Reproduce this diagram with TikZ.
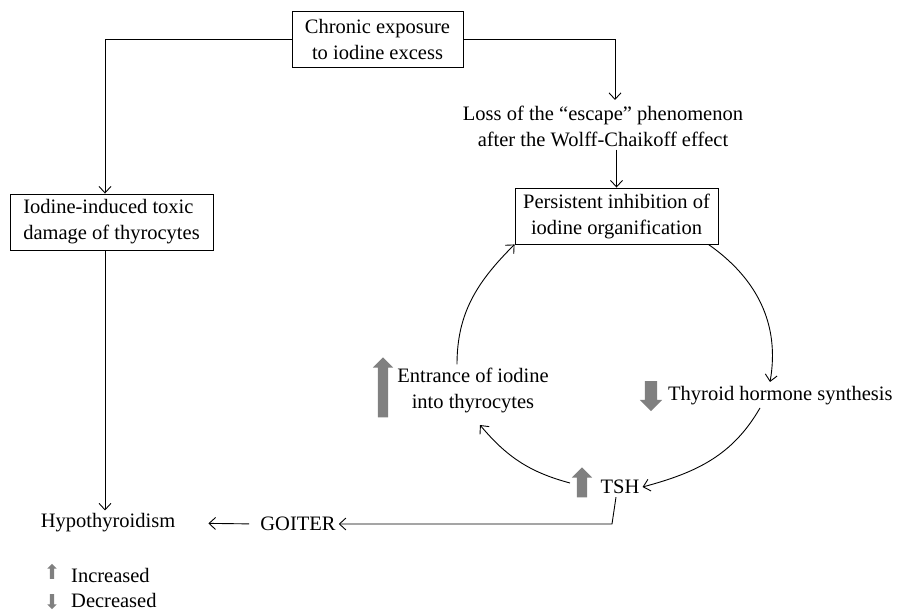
\documentclass[tikz,border=0pt]{standalone}
\usepackage{fontspec}
\setmainfont{Liberation Serif}
\usetikzlibrary{arrows.meta,shapes.arrows}
\definecolor{arrowgray}{HTML}{808080}
\tikzset{
  box/.style={draw, line width=0.9pt, minimum height=56pt, inner sep=3pt, align=center},
  plain/.style={inner sep=3pt, align=center},
  arr/.style={line width=0.9pt, -{Straight Barb[length=6.5pt,width=12pt,line width=0.9pt]}},
  con/.style={line width=0.9pt},
  blockarrow/.style={single arrow, fill=arrowgray, draw=none, inner sep=5pt,
    single arrow head extend=5pt, single arrow tip angle=90, minimum width=20pt, rotate=90},
  blockdown/.style={single arrow, fill=arrowgray, draw=none, inner sep=6pt,
    single arrow head extend=5pt, single arrow tip angle=90, minimum width=22pt, rotate=-90},
  legup/.style={single arrow, fill=arrowgray, draw=none, inner sep=2pt,
    single arrow head extend=2.5pt, single arrow tip angle=90, minimum width=9pt, minimum height=15pt, rotate=90},
  legdown/.style={legup, rotate=-180}
}
\begin{document}
\begin{tikzpicture}[x=1pt,y=1pt,font=\fontsize{20.5}{26}\selectfont]
\useasboundingbox (0,0) rectangle (898,611);

% nodes
\node[box, minimum width=171pt] (chronic) at (377.5,572) {Chronic exposure\\to iodine excess};
\node[plain] (loss) at (603,485) {Loss of the “escape” phenomenon\\after the Wolff-Chaikoff effect};
\coordinate (lossin) at (615,511);
\node[box, minimum width=203pt] (persist) at (616.5,395) {Persistent inhibition of\\iodine organification};
\node[box, minimum width=203pt, align=left] (iodine) at (111.5,389) {Iodine-induced toxic\\damage of thyrocytes};
\node[plain] (entr) at (473,221) {Entrance of iodine\\into thyrocytes};
\node[blockarrow, minimum height=60pt] (entrup) at (383,221) {};
\node[plain, anchor=west] (thyr) at (665,215) {Thyroid hormone synthesis};
\node[blockdown, minimum height=30pt] (thyrdown) at (651,218) {};
\node[plain] (tsh) at (620,124) {TSH};
\node[blockarrow, minimum height=30pt] (tshup) at (582,126) {};
\node[plain] (goiter) at (298,87) {GOITER};
\node[plain] (hypo) at (108,88) {Hypothyroidism};
\coordinate (thyrin) at (770,229);
\coordinate (thyrout) at (760,203);
\coordinate (entrin) at (480,186);

% legend
\node[legup] (incicon) at (52,38.5) {};
\node[plain, anchor=west] (inc) at (68,36) {Increased};
\node[legdown] (decicon) at (52,10.5) {};
\node[plain, anchor=west] (dec) at (68,11) {Decreased};

% connectors
\draw[arr] (chronic.east) -| (lossin);
\draw[arr] (chronic.west) -| ([xshift=-6.5pt]iodine.north);
\draw[arr] (persist.north |- loss.south) -- (persist.north);
\draw[arr] ([xshift=-6.5pt]iodine.south) -- ([xshift=-6.5pt]iodine.south |- hypo.north);
\draw[arr] ([xshift=-10pt]persist.south east) to[out=-35,in=80] (thyrin);
\draw[arr] (thyrout) to[out=-120,in=15] (tsh.east);
\draw[arr] ([xshift=-12pt,yshift=2pt]tshup.center) to[out=165,in=-50] (entrin);
\draw[arr] ([xshift=-16pt]entr.north) to[out=90,in=225] (persist.south west);
\draw[arr] ([xshift=-4pt]tsh.south) -- ([xshift=-8pt]tsh.south |- goiter.east) -- (goiter.east);
\draw[arr, shorten <=8pt, shorten >=30pt] (goiter.west) -- (hypo.east);
\end{tikzpicture}
\end{document}
